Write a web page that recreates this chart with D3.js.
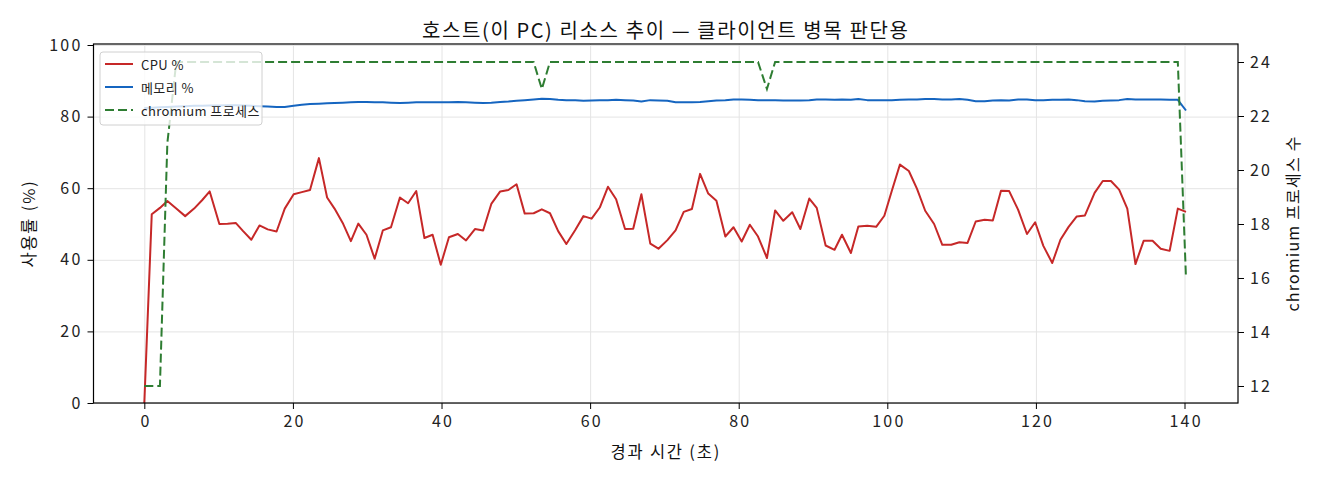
<!DOCTYPE html>
<html>
<head>
<meta charset="utf-8">
<title>호스트 리소스 추이</title>
<script src="https://d3js.org/d3.v7.min.js"></script>
<style>
  body { margin: 0; background: #fff; }
  svg { display: block; font-family: "Noto Sans CJK KR", "Noto Sans", sans-serif; }
  .axis path, .axis line { stroke: #000; }
  .axis text { fill: #222; }
  .grid line { stroke: #e4e4e4; }
  .grid path { display: none; }
</style>
</head>
<body>
<script>
// elapsed seconds of each sample
const timeSec = [
  0, 1.0, 2.1, 3.1, 4.3, 5.5, 6.7, 7.8, 8.8, 10.1,
  11.2, 12.3, 13.3, 14.4, 15.5, 16.6, 17.8, 18.9, 20.1, 21.2,
  22.3, 23.5, 24.6, 25.6, 26.7, 27.8, 28.8, 29.9, 31.0, 32.1,
  33.2, 34.4, 35.5, 36.6, 37.7, 38.8, 39.9, 41.0, 42.2, 43.3,
  44.5, 45.6, 46.7, 47.9, 49.0, 50.1, 51.2, 52.4, 53.5, 54.6,
  55.7, 56.8, 58.0, 59.1, 60.2, 61.3, 62.4, 63.5, 64.7, 65.8,
  66.9, 68.1, 69.2, 70.4, 71.5, 72.6, 73.7, 74.8, 75.9, 77.0,
  78.2, 79.3, 80.4, 81.5, 82.6, 83.8, 84.9, 86.0, 87.2, 88.3,
  89.5, 90.5, 91.7, 92.9, 93.9, 95.1, 96.1, 97.3, 98.5, 99.6,
  100.6, 101.7, 102.9, 104.0, 105.1, 106.3, 107.4, 108.6, 109.7, 110.8,
  111.9, 113.1, 114.2, 115.3, 116.4, 117.6, 118.8, 119.9, 121.0, 122.2,
  123.3, 124.4, 125.5, 126.6, 127.9, 129.0, 130.1, 131.2, 132.3, 133.4,
  134.5, 135.7, 136.8, 138.0, 139.1, 140.2
];

const cpuPct = [
  0, 52.7, 54.5, 56.4, 54.3, 52.2, 54.3, 56.7, 59.1, 50.0,
  50.1, 50.3, 48.0, 45.6, 49.6, 48.5, 47.9, 54.3, 58.3, 58.9,
  59.5, 68.4, 57.4, 54.3, 50.3, 45.2, 50.1, 47.0, 40.3, 48.2,
  49.1, 57.4, 55.8, 59.2, 46.1, 47.0, 38.6, 46.3, 47.2, 45.4,
  48.6, 48.2, 55.6, 59.1, 59.5, 61.1, 52.9, 53.0, 54.1, 53.0,
  48.0, 44.4, 48.3, 52.2, 51.5, 54.6, 60.4, 56.9, 48.6, 48.7,
  58.3, 44.5, 43.1, 45.5, 48.2, 53.4, 54.2, 64.0, 58.5, 56.5,
  46.5, 49.1, 45.1, 49.8, 46.5, 40.5, 53.8, 50.9, 53.3, 48.6,
  57.1, 54.5, 44.0, 42.8, 47.0, 41.9, 49.3, 49.5, 49.2, 52.3,
  59.2, 66.6, 64.8, 59.8, 53.7, 50.0, 44.2, 44.2, 44.9, 44.7,
  50.7, 51.2, 51.0, 59.3, 59.2, 54.0, 47.2, 50.5, 43.9, 39.1,
  45.6, 49.2, 52.1, 52.4, 58.7, 62.0, 62.0, 59.6, 54.3, 38.8,
  45.3, 45.3, 43.1, 42.5, 54.3, 53.4
];

const memPct = [
  82.4, 82.5, 82.6, 82.7, 82.8, 82.9, 83.0, 83.0, 83.1, 83.1,
  83.2, 83.2, 83.1, 83.0, 82.9, 82.8, 82.7, 82.7, 83.0, 83.3,
  83.5, 83.6, 83.7, 83.8, 83.9, 84.0, 84.1, 84.1, 84.0, 84.0,
  83.9, 83.8, 83.9, 84.0, 84.0, 84.0, 84.0, 84.0, 84.1, 84.0,
  83.9, 83.8, 83.9, 84.1, 84.2, 84.4, 84.6, 84.8, 85.0, 84.9,
  84.7, 84.6, 84.6, 84.4, 84.5, 84.6, 84.6, 84.7, 84.6, 84.5,
  84.2, 84.6, 84.5, 84.4, 84.0, 84.0, 84.0, 84.1, 84.3, 84.5,
  84.6, 84.8, 84.8, 84.7, 84.6, 84.6, 84.6, 84.5, 84.5, 84.5,
  84.6, 84.8, 84.8, 84.7, 84.8, 84.7, 84.9, 84.6, 84.6, 84.6,
  84.6, 84.7, 84.8, 84.8, 84.9, 84.9, 84.8, 84.8, 84.9, 84.7,
  84.3, 84.3, 84.5, 84.6, 84.5, 84.8, 84.8, 84.6, 84.6, 84.7,
  84.7, 84.8, 84.6, 84.3, 84.2, 84.4, 84.5, 84.6, 84.9, 84.8,
  84.8, 84.8, 84.8, 84.7, 84.7, 81.7
];

const procCount = [
  12, 12, 12, 21, 24, 24, 24, 24, 24, 24,
  24, 24, 24, 24, 24, 24, 24, 24, 24, 24,
  24, 24, 24, 24, 24, 24, 24, 24, 24, 24,
  24, 24, 24, 24, 24, 24, 24, 24, 24, 24,
  24, 24, 24, 24, 24, 24, 24, 24, 23, 24,
  24, 24, 24, 24, 24, 24, 24, 24, 24, 24,
  24, 24, 24, 24, 24, 24, 24, 24, 24, 24,
  24, 24, 24, 24, 24, 23, 24, 24, 24, 24,
  24, 24, 24, 24, 24, 24, 24, 24, 24, 24,
  24, 24, 24, 24, 24, 24, 24, 24, 24, 24,
  24, 24, 24, 24, 24, 24, 24, 24, 24, 24,
  24, 24, 24, 24, 24, 24, 24, 24, 24, 24,
  24, 24, 24, 24, 24, 16
];

const xTicks = [0, 20, 40, 60, 80, 100, 120, 140];
const pctTicks = [0, 20, 40, 60, 80, 100];
const procTicks = [12, 14, 16, 18, 20, 22, 24];

const seriesNames = ["CPU %", "메모리 %", "chromium 프로세스"];
const seriesColors = ["#c62828", "#1565c0", "#2e7d32"];

const W = 1320, H = 480;
const plotL = 93.5, plotR = 1238, plotT = 44, plotB = 403;

const svg = d3.select("body").append("svg")
  .attr("width", W).attr("height", H);

const x = d3.scaleLinear().domain([-6.84, 147.2]).range([plotL, plotR]);
const y = d3.scaleLinear().domain([0, 100]).range([plotB, plotT + 1]);
const y2 = d3.scaleLinear().domain([11.37, 24.63]).range([plotB, plotT + 1]);

// grid
svg.append("g").attr("class", "grid")
  .attr("transform", `translate(0,${plotB})`)
  .call(d3.axisBottom(x).tickValues(xTicks).tickSize(-(plotB - plotT)).tickFormat(""));
svg.append("g").attr("class", "grid")
  .attr("transform", `translate(${plotL},0)`)
  .call(d3.axisLeft(y).tickValues(pctTicks).tickSize(-(plotR - plotL)).tickFormat(""));

const pts = timeSec.map((t, i) => ({t: t, cpu: cpuPct[i], mem: memPct[i], proc: procCount[i]}));

const lineCpu = d3.line().x(d => x(d.t)).y(d => y(d.cpu));
const lineMem = d3.line().x(d => x(d.t)).y(d => y(d.mem));
const lineProc = d3.line().x(d => x(d.t)).y(d => y2(d.proc));

const plot = svg.append("g");
plot.append("path").datum(pts).attr("d", lineCpu)
  .attr("fill", "none").attr("stroke", seriesColors[0]).attr("stroke-width", 2)
  .attr("stroke-linejoin", "round");
plot.append("path").datum(pts).attr("d", lineMem)
  .attr("fill", "none").attr("stroke", seriesColors[1]).attr("stroke-width", 2)
  .attr("stroke-linejoin", "round");
plot.append("path").datum(pts).attr("d", lineProc)
  .attr("fill", "none").attr("stroke", seriesColors[2]).attr("stroke-width", 2)
  .attr("stroke-dasharray", "9,4");

// frame
svg.append("rect").attr("x", plotL).attr("y", plotT).attr("width", plotR - plotL).attr("height", plotB - plotT)
  .attr("fill", "none").attr("stroke", "#000").attr("stroke-width", 1.2);

// axes
const gx = svg.append("g").attr("class", "axis")
  .attr("transform", `translate(0,${plotB})`)
  .call(d3.axisBottom(x).tickValues(xTicks).tickSize(6).tickPadding(7).tickSizeOuter(0));
const gy = svg.append("g").attr("class", "axis")
  .attr("transform", `translate(${plotL},0)`)
  .call(d3.axisLeft(y).tickValues(pctTicks).tickSize(6).tickPadding(5).tickSizeOuter(0));
const gy2 = svg.append("g").attr("class", "axis")
  .attr("transform", `translate(${plotR},0)`)
  .call(d3.axisRight(y2).tickValues(procTicks).tickSize(6).tickPadding(6).tickSizeOuter(0));
[gx, gy, gy2].forEach(g => {
  g.select(".domain").remove();
  g.selectAll("text").attr("font-size", 16).attr("letter-spacing", 2.2)
    .attr("font-family", "Noto Sans CJK KR");
});
gx.selectAll("text").attr("dx", 1.1);

// titles
svg.append("text").attr("x", (plotL + plotR) / 2).attr("y", 29)
  .attr("text-anchor", "middle").attr("dominant-baseline", "central")
  .attr("font-size", 20).attr("letter-spacing", 1.6).attr("fill", "#111")
  .text("호스트(이 PC) 리소스 추이 — 클라이언트 병목 판단용");
svg.append("text").attr("x", (plotL + plotR) / 2).attr("y", 451)
  .attr("text-anchor", "middle").attr("dominant-baseline", "central")
  .attr("font-size", 16.5).attr("letter-spacing", 1.8).attr("fill", "#111")
  .text("경과 시간 (초)");
svg.append("text").attr("transform", `translate(28,${(plotT + plotB) / 2}) rotate(-90)`)
  .attr("text-anchor", "middle").attr("dominant-baseline", "central")
  .attr("font-size", 16.5).attr("letter-spacing", 1.8).attr("fill", "#111")
  .text("사용률 (%)");
svg.append("text").attr("transform", `translate(1292,${(plotT + plotB) / 2}) rotate(-90)`)
  .attr("text-anchor", "middle").attr("dominant-baseline", "central")
  .attr("font-size", 16).attr("letter-spacing", 1.2).attr("fill", "#111")
  .text("chromium 프로세스 수");

// legend
const lg = svg.append("g").attr("transform", "translate(100,52)");
lg.append("rect").attr("width", 162).attr("height", 73).attr("rx", 3)
  .attr("fill", "#fff").attr("fill-opacity", 0.8).attr("stroke", "#d0d0d0");
seriesNames.forEach((name, i) => {
  const row = lg.append("g").attr("transform", `translate(0,${12 + i * 23})`);
  row.append("line").attr("x1", 5).attr("x2", 33)
    .attr("stroke", seriesColors[i]).attr("stroke-width", 2)
    .attr("stroke-dasharray", i === 2 ? "9,4" : null);
  row.append("text").attr("x", 41).attr("dominant-baseline", "central")
    .attr("font-size", 13).attr("letter-spacing", 0.4).attr("fill", "#222").text(name);
});
</script>
</body>
</html>
